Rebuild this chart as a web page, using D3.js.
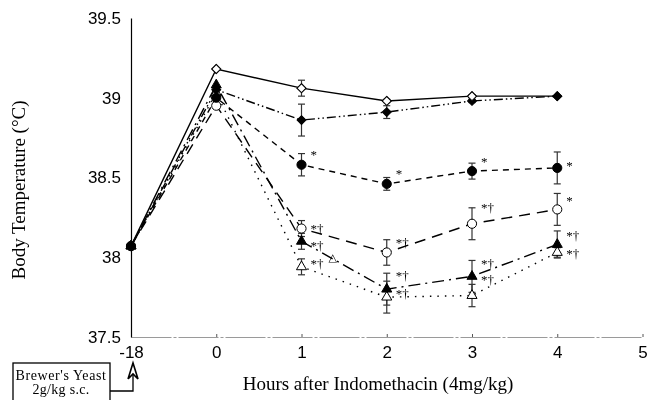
<!DOCTYPE html>
<html><head><meta charset="utf-8">
<script src="https://cdn.jsdelivr.net/npm/d3@7"></script>
<style>
body{margin:0;background:#fff;}
svg{display:block;opacity:0.999;will-change:transform;}
</style></head>
<body>
<svg id="chart" width="663" height="400"></svg>
<script>
// ---- data ----
const xCategories = ["-18", "0", "1", "2", "3", "4", "5"];
const yTicks = [37.5, 38, 38.5, 39, 39.5];
const dataX = ["-18", "0", "1", "2", "3", "4"];

const openDiamondValues    = [38.07, 39.18, 39.06, 38.98, 39.01, 39.01];
const openDiamondErr       = [0, 0, 0.05, 0.01, 0.01, 0];
const filledDiamondValues  = [38.07, 39.05, 38.86, 38.91, 38.98, 39.01];
const filledDiamondErr     = [0, 0, 0.10, 0.04, 0.01, 0];
const filledCircleValues   = [38.07, 39.00, 38.58, 38.46, 38.54, 38.56];
const filledCircleErr      = [0, 0, 0.07, 0.04, 0.05, 0.10];
const openCircleValues     = [38.07, 38.95, 38.18, 38.03, 38.21, 38.30];
const openCircleErr        = [0, 0, 0.05, 0.08, 0.10, 0.10];
const filledTriangleValues = [38.07, 39.08, 38.10, 37.80, 37.88, 38.08];
const filledTriangleErr    = [0, 0, 0.05, 0.10, 0.10, 0.085];
const openTriangleValues   = [38.07, 39.03, 37.94, 37.75, 37.76, 38.03];
const openTriangleErr      = [0, 0, 0.05, 0.10, 0.07, 0.03];

const annotX    = ["1","1","1","1","1", "2","2","2","2", "3","3","3","3", "4","4","4","4"];
const annotY    = [38.66,38.20,38.09,37.98,38.00, 38.54,38.11,37.90,37.79, 38.62,38.33,37.98,37.88, 38.59,38.37,38.15,38.04];
const annotText = ["*","*†","*†","*†","△", "*","*†","*†","*†", "*","*†","*†","*†", "*","*","*†","*†"];
const annotShift= [0,0,0,0,1, 0,0,0,0, 0,0,0,0, 0,0,0,0];

const yLabel = "Body Temperature (°C)";
const xLabel = "Hours after Indomethacin (4mg/kg)";
const boxLines = ["Brewer's Yeast", "2g/kg s.c."];

// ---- drawing ----
const svg = d3.select("#chart");
svg.append("rect").attr("width", 663).attr("height", 400).attr("fill", "#fff");
const x = d3.scalePoint().domain(xCategories).range([131, 642.5]);
const y = d3.scaleLinear().domain([37.5, 39.5]).range([337, 18]);

const series = [
  {v: openDiamondValues, e: openDiamondErr, shape: "diamond", fill: "#fff", dash: null},
  {v: filledDiamondValues, e: filledDiamondErr, shape: "diamond", fill: "#000", dash: "9,3,1.5,3,1.5,3"},
  {v: filledCircleValues, e: filledCircleErr, shape: "circle", fill: "#000", dash: "6,5"},
  {v: openCircleValues, e: openCircleErr, shape: "circle", fill: "#fff", dash: "11,7"},
  {v: filledTriangleValues, e: filledTriangleErr, shape: "triangle", fill: "#000", dash: "12,5,2,5"},
  {v: openTriangleValues, e: openTriangleErr, shape: "triangle", fill: "#fff", dash: "1.5,6"}
];

// axes
const xAxis = d3.axisBottom(x).tickSizeInner(-3).tickSizeOuter(0).tickPadding(9);
const gx = svg.append("g").attr("transform", "translate(0,337)").call(xAxis);
gx.select(".domain").attr("stroke", "#9a9a9a").attr("stroke-width", 1.2).attr("stroke-dasharray", "40,2,3,2");
gx.selectAll(".tick line").attr("stroke", "#555");
gx.selectAll(".tick text").attr("font-family", "Liberation Sans, Arial, sans-serif").attr("font-size", 17).attr("fill", "#000");

const yAxis = d3.axisLeft(y).tickValues(yTicks).tickFormat(d3.format("")).tickSize(0).tickPadding(10);
const gy = svg.append("g").attr("transform", "translate(131,0)").call(yAxis);
gy.select(".domain").attr("stroke", "#000").attr("stroke-width", 1.2);
gy.selectAll(".tick text").attr("font-family", "Liberation Sans, Arial, sans-serif").attr("font-size", 17).attr("fill", "#000");

// lines
const line = d3.line().x((d, i) => x(dataX[i])).y(d => y(d));
series.forEach(s => {
  svg.append("path").datum(s.v).attr("d", line)
    .attr("fill", "none").attr("stroke", "#000").attr("stroke-width", 1.4)
    .attr("stroke-dasharray", s.dash);
});

// error bars
series.forEach(s => {
  const g = svg.append("g").attr("stroke", "#333").attr("stroke-width", 1.2);
  s.v.forEach((v, i) => {
    if (!s.e[i]) return;
    const cx = x(dataX[i]);
    const y1 = y(v + s.e[i]), y2 = y(v - s.e[i]);
    g.append("line").attr("x1", cx).attr("x2", cx).attr("y1", y1).attr("y2", y2);
    g.append("line").attr("x1", cx - 3.5).attr("x2", cx + 3.5).attr("y1", y1).attr("y2", y1);
    g.append("line").attr("x1", cx - 3.5).attr("x2", cx + 3.5).attr("y1", y2).attr("y2", y2);
  });
});

// markers
const sym = {
  diamond: d3.symbol().type(d3.symbolSquare).size(40)(),
  circle: d3.symbol().type(d3.symbolCircle).size(66)(),
  triangle: d3.symbol().type(d3.symbolTriangle).size(44)()
};
const drawOrder = [5, 4, 3, 2, 0, 1];
drawOrder.forEach(k => {
  const s = series[k];
  svg.append("g").selectAll("path").data(s.v).join("path")
    .attr("d", sym[s.shape])
    .attr("transform", (d, i) => `translate(${x(dataX[i])},${y(d)})` + (s.shape === "diamond" ? " rotate(45)" : ""))
    .attr("fill", s.fill).attr("stroke", "#000").attr("stroke-width", 1);
});
// open diamond on top for the middle points (except -18 and 4)
svg.append("g").selectAll("path").data(openDiamondValues.slice(1, 5)).join("path")
  .attr("d", sym.diamond)
  .attr("transform", (d, i) => `translate(${x(dataX[i + 1])},${y(d)}) rotate(45)`)
  .attr("fill", "#fff").attr("stroke", "#000").attr("stroke-width", 1);

// annotations
svg.append("g").selectAll("text").data(annotText).join("text")
  .attr("x", (d, i) => x(annotX[i]) + (annotShift[i] ? 27 : 9))
  .attr("y", (d, i) => y(annotY[i]))
  .attr("dy", (d, i) => annotShift[i] ? "0.35em" : "0.55em")
  .attr("font-family", (d, i) => annotShift[i] ? "DejaVu Sans, sans-serif" : "Liberation Serif, Times New Roman, serif")
  .attr("font-size", (d, i) => annotShift[i] ? 11 : 13)
  .attr("fill", "#000")
  .text(d => d);

// axis titles
svg.append("text")
  .attr("transform", "translate(25,190) rotate(-90)")
  .attr("text-anchor", "middle")
  .attr("font-family", "Liberation Serif, Times New Roman, serif")
  .attr("font-size", 19).attr("fill", "#000")
  .text(yLabel);

svg.append("text")
  .attr("x", 378).attr("y", 390)
  .attr("text-anchor", "middle")
  .attr("font-family", "Liberation Serif, Times New Roman, serif")
  .attr("font-size", 19).attr("fill", "#000")
  .text(xLabel);

// Brewer's yeast box + arrow
const ax = x("-18");
svg.append("rect").attr("x", 13).attr("y", 363).attr("width", 97).attr("height", 40)
  .attr("fill", "#fff").attr("stroke", "#000").attr("stroke-width", 1.3);
svg.append("g").selectAll("text").data(boxLines).join("text")
  .attr("x", 61).attr("y", (d, i) => 380 + i * 14)
  .attr("text-anchor", "middle")
  .attr("font-family", "Liberation Serif, Times New Roman, serif")
  .attr("font-size", 14).attr("letter-spacing", (d, i) => i === 0 ? 0.6 : 0.3).attr("fill", "#000")
  .text(d => d);
svg.append("polyline")
  .attr("points", `110,391 ${ax + 2},391 ${ax + 2},366`)
  .attr("fill", "none").attr("stroke", "#000").attr("stroke-width", 1.3);
svg.append("polyline")
  .attr("points", `${ax - 3},379 ${ax + 2},363 ${ax + 7},379 ${ax + 2},374 ${ax - 3},379`)
  .attr("fill", "#fff").attr("stroke", "#000").attr("stroke-width", 1.6).attr("stroke-linejoin", "miter");
</script>
</body></html>
